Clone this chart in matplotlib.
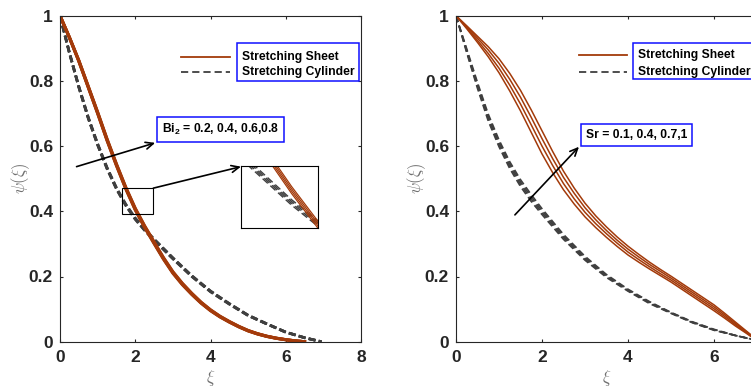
#!/usr/bin/env python3
"""Two-panel concentration profiles: stretching sheet vs stretching cylinder."""

import matplotlib

matplotlib.use("Agg")
import matplotlib.pyplot as plt
from matplotlib.patches import Rectangle

# ---------------- data ----------------
# left panel: Bi2 = 0.2, 0.4, 0.6, 0.8
xi_sheet_left = [0, 0.25, 0.5, 0.75, 1, 1.25, 1.5, 1.75, 2, 2.25, 2.5, 2.75, 3, 3.25,
                 3.5, 3.75, 4, 4.25, 4.5, 4.75, 5, 5.25, 5.5, 5.75, 6, 6.25, 6.5]
sheet_left = [
    [1, 0.9325, 0.8600, 0.7800, 0.7000, 0.6170, 0.5400, 0.4680, 0.4040, 0.3500, 0.3010, 0.2530, 0.2100, 0.1750,
     0.1450, 0.1180, 0.0950, 0.0760, 0.0600, 0.0455, 0.0330, 0.0235, 0.0160, 0.0103, 0.0060, 0.0025, 0.0],
    [1, 0.9330, 0.8610, 0.7813, 0.7015, 0.6187, 0.5418, 0.4698, 0.4058, 0.3518, 0.3028, 0.2547, 0.2116, 0.1765,
     0.1463, 0.1191, 0.0960, 0.0768, 0.0607, 0.0461, 0.0335, 0.0239, 0.0163, 0.0105, 0.0061, 0.0025, 0.0],
    [1, 0.9335, 0.8620, 0.7826, 0.7030, 0.6204, 0.5436, 0.4716, 0.4076, 0.3536, 0.3046, 0.2564, 0.2132, 0.1780,
     0.1476, 0.1202, 0.0970, 0.0776, 0.0614, 0.0467, 0.0340, 0.0243, 0.0166, 0.0107, 0.0062, 0.0025, 0.0],
    [1, 0.9340, 0.8630, 0.7839, 0.7045, 0.6221, 0.5454, 0.4734, 0.4094, 0.3554, 0.3064, 0.2581, 0.2148, 0.1795,
     0.1489, 0.1213, 0.0980, 0.0784, 0.0621, 0.0473, 0.0345, 0.0247, 0.0169, 0.0109, 0.0063, 0.0025, 0.0],
]
xi_cyl_left = [0, 0.25, 0.5, 0.75, 1, 1.25, 1.5, 1.75, 2, 2.25, 2.5, 3, 3.5, 4, 4.5, 5, 5.5, 6, 6.5, 6.95]
cyl_left = [
    [1, 0.8850, 0.7800, 0.6850, 0.6030, 0.5300, 0.4680, 0.4170, 0.3750, 0.3410, 0.3110, 0.2540, 0.2000, 0.1530,
     0.1150, 0.0800, 0.0540, 0.0290, 0.0120, 0.0],
    [1, 0.8858, 0.7812, 0.6864, 0.6045, 0.5315, 0.4695, 0.4185, 0.3765, 0.3424, 0.3124, 0.2552, 0.2010, 0.1539,
     0.1157, 0.0805, 0.0543, 0.0292, 0.0121, 0.0],
    [1, 0.8866, 0.7824, 0.6878, 0.6060, 0.5330, 0.4710, 0.4200, 0.3780, 0.3438, 0.3138, 0.2564, 0.2020, 0.1548,
     0.1164, 0.0810, 0.0546, 0.0294, 0.0122, 0.0],
    [1, 0.8874, 0.7836, 0.6892, 0.6075, 0.5345, 0.4725, 0.4215, 0.3795, 0.3452, 0.3152, 0.2576, 0.2030, 0.1557,
     0.1171, 0.0815, 0.0549, 0.0296, 0.0123, 0.0],
]

# right panel: Sr = 0.1, 0.4, 0.7, 1
xi_sheet_right = [0, 0.25, 0.5, 0.75, 1, 1.25, 1.5, 1.75, 2, 2.25, 2.5, 2.75, 3, 3.25, 3.5,
                  3.75, 4, 4.25, 4.5, 4.75, 5, 5.25, 5.5, 5.75, 6, 6.25, 6.5, 6.75, 7]
sheet_right = [
    [1, 0.960, 0.918, 0.874, 0.825, 0.769, 0.708, 0.642, 0.576, 0.518, 0.466, 0.422, 0.383, 0.350, 0.320,
     0.292, 0.266, 0.244, 0.223, 0.203, 0.183, 0.161, 0.139, 0.117, 0.095, 0.072, 0.048, 0.026, 0.003],
    [1, 0.963, 0.924, 0.884, 0.839, 0.787, 0.729, 0.665, 0.600, 0.540, 0.485, 0.438, 0.397, 0.362, 0.331,
     0.302, 0.275, 0.252, 0.230, 0.209, 0.189, 0.167, 0.145, 0.123, 0.101, 0.077, 0.052, 0.028, 0.004],
    [1, 0.966, 0.931, 0.895, 0.854, 0.805, 0.750, 0.688, 0.623, 0.561, 0.504, 0.455, 0.411, 0.374, 0.341,
     0.311, 0.284, 0.260, 0.237, 0.216, 0.195, 0.173, 0.151, 0.129, 0.107, 0.082, 0.056, 0.031, 0.005],
    [1, 0.969, 0.937, 0.905, 0.868, 0.823, 0.771, 0.711, 0.647, 0.583, 0.523, 0.471, 0.425, 0.386, 0.352,
     0.321, 0.293, 0.268, 0.244, 0.222, 0.201, 0.179, 0.157, 0.135, 0.113, 0.087, 0.060, 0.033, 0.006],
]
xi_cyl_right = [0, 0.25, 0.5, 0.75, 1, 1.25, 1.5, 1.75, 2, 2.5, 3, 3.5, 4, 4.5, 5, 5.5, 6, 6.5, 7]
cyl_right = [
    [1, 0.886, 0.777, 0.677, 0.598, 0.531, 0.476, 0.430, 0.390, 0.314, 0.250, 0.197, 0.155, 0.117, 0.087,
     0.058, 0.035, 0.019, 0.004],
    [1, 0.890, 0.783, 0.684, 0.605, 0.538, 0.483, 0.437, 0.396, 0.319, 0.254, 0.200, 0.157, 0.119, 0.088,
     0.059, 0.036, 0.019, 0.004],
    [1, 0.894, 0.789, 0.691, 0.612, 0.545, 0.490, 0.444, 0.402, 0.324, 0.258, 0.203, 0.159, 0.121, 0.089,
     0.060, 0.037, 0.019, 0.004],
    [1, 0.898, 0.795, 0.698, 0.619, 0.552, 0.497, 0.451, 0.408, 0.329, 0.262, 0.206, 0.161, 0.123, 0.090,
     0.061, 0.038, 0.019, 0.004],
]

x_ticks_left = [0, 2, 4, 6, 8]
x_ticks_right = [0, 2, 4, 6]
y_ticks = [0, 0.2, 0.4, 0.6, 0.8, 1]
y_tick_labels = ["0", "0.2", "0.4", "0.6", "0.8", "1"]
legend_labels = ["Stretching Sheet", "Stretching Cylinder"]
note_left = r"Bi$_{\mathbf{2}}$ = 0.2, 0.4, 0.6,0.8"
note_right = "Sr = 0.1, 0.4, 0.7,1"

# ---------------- style ----------------
SHEET = "#a33a0a"
CYL = "#3f3f3f"
AXC = "#262626"
BLUE = "#1010ff"
FONT = "Liberation Sans"

plt.rcParams.update(
    {
        "font.family": FONT,
        "mathtext.fontset": "custom",
        "mathtext.rm": FONT,
        "mathtext.bf": f"{FONT}:bold",
        "mathtext.it": f"{FONT}:italic",
    }
)

W, H = 751, 387
fig = plt.figure(figsize=(W / 100, H / 100), dpi=100, facecolor="white")


def px_axes(left, top, right, bottom):
    return [left / W, (H - bottom) / H, (right - left) / W, (bottom - top) / H]


def style_axes(ax, xlim, xticks):
    ax.set_xlim(*xlim)
    ax.set_ylim(0, 1)
    ax.set_xticks(xticks)
    ax.set_xticklabels([f"{t:g}" for t in xticks])
    ax.set_yticks(y_ticks)
    ax.set_yticklabels(y_tick_labels)
    for sp in ax.spines.values():
        sp.set_color(AXC)
        sp.set_linewidth(0.8)
    ax.tick_params(direction="in", length=2.5, width=0.8, color=AXC,
                   top=True, right=True, labelsize=12.5, labelcolor=AXC)
    ax.tick_params(axis="x", pad=6)
    ax.tick_params(axis="y", pad=5)
    for lab in ax.get_xticklabels() + ax.get_yticklabels():
        lab.set_fontweight("bold")
    ax.set_xlabel(r"$\xi$", math_fontfamily="cm", fontsize=12, color="#707070", labelpad=2)
    ax.set_ylabel(r"$\psi(\xi)$", math_fontfamily="cm", fontsize=12, color="#707070", labelpad=-2)


def legend_block(ax, x0, x1, ys, box, tx):
    ax.plot([x0, x1], [ys[0], ys[0]], color=SHEET, lw=1.3)
    ax.plot([x0, x1], [ys[1], ys[1]], color=CYL, lw=1.3, dashes=(4, 2.2))
    bx0, by0, bx1, by1 = box
    ax.add_patch(Rectangle((bx0, by0), bx1 - bx0, by1 - by0, fill=True, fc="white",
                           ec=BLUE, lw=1.1, zorder=4, clip_on=False))
    for y, lab in zip(ys, legend_labels):
        ax.text(tx, y, lab, fontsize=8.7, fontweight="bold", va="center", ha="left",
                color="black", zorder=5)


def note(ax, x, y, s):
    ax.text(x, y, s, fontsize=8.7, fontweight="bold", va="center", ha="left", zorder=5,
            bbox=dict(boxstyle="square,pad=0.42", fc="white", ec=BLUE, lw=1.1))


def arrow(ax, tail, head):
    ax.annotate("", xy=head, xytext=tail,
                arrowprops=dict(arrowstyle="->,head_length=0.55,head_width=0.25",
                                lw=1.2, color="black", shrinkA=0, shrinkB=0))


# ---------------- left panel ----------------
ax1 = fig.add_axes(px_axes(60, 15.7, 361, 341.7))
for ys in cyl_left:
    ax1.plot(xi_cyl_left, ys, color=CYL, lw=1.9, dashes=(2.6, 1.3))
for ys in sheet_left:
    ax1.plot(xi_sheet_left, ys, color=SHEET, lw=2.2)
style_axes(ax1, (0, 8), x_ticks_left)
legend_block(ax1, 3.22, 4.52, (0.874, 0.828), (4.71, 0.80, 7.96, 0.915), 4.83)
note(ax1, 2.71, 0.652, note_left)
arrow(ax1, (0.44, 0.537), (2.53, 0.61))
ax1.add_patch(Rectangle((1.64, 0.391), 0.84, 0.08, fill=False, ec="black", lw=0.8, zorder=4))
arrow(ax1, (2.48, 0.471), (4.81, 0.537))

# inset: zoom near the crossing of the two families
axi = fig.add_axes(px_axes(240.7, 166.3, 317.7, 228.3))
for ys in cyl_left:
    axi.plot(xi_cyl_left, ys, color=CYL, lw=1.0, dashes=(5, 2.5))
for ys in sheet_left:
    axi.plot(xi_sheet_left, ys, color=SHEET, lw=0.9)
axi.set_xlim(1.986, 2.386)
axi.set_ylim(0.323, 0.371)
axi.set_xticks([])
axi.set_yticks([])
for sp in axi.spines.values():
    sp.set_color("black")
    sp.set_linewidth(0.8)

# ---------------- right panel ----------------
ax2 = fig.add_axes(px_axes(456, 15.7, 757, 341.7))
for ys in cyl_right:
    ax2.plot(xi_cyl_right, ys, color=CYL, lw=1.2, dashes=(4.0, 2.2))
for ys in sheet_right:
    ax2.plot(xi_sheet_right, ys, color=SHEET, lw=1.1)
style_axes(ax2, (0, 7), x_ticks_right)
legend_block(ax2, 2.86, 3.98, (0.880, 0.828), (4.12, 0.805, 6.99, 0.915), 4.24)
note(ax2, 3.02, 0.634, note_right)
arrow(ax2, (1.37, 0.389), (2.86, 0.598))

fig.savefig("out.png", dpi=100, facecolor="white")
